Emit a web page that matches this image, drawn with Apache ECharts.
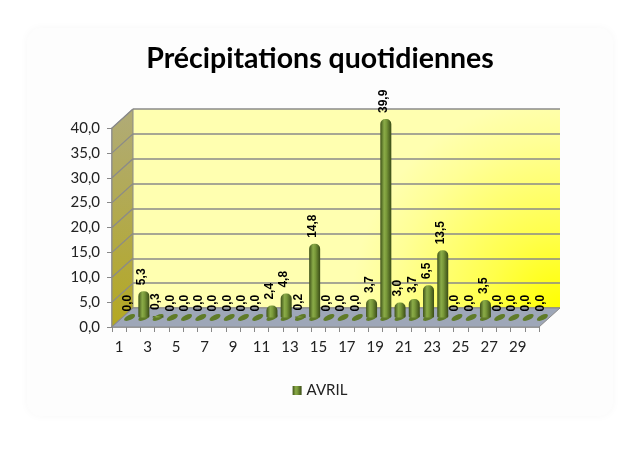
<!DOCTYPE html>
<html>
<head>
<meta charset="utf-8">
<script src="https://cdn.jsdelivr.net/npm/echarts@6/dist/echarts.min.js"></script>
<style>
  html, body { margin: 0; padding: 0; background: #fff; }
  #chart { width: 640px; height: 457px; }
</style>
</head>
<body>
<div id="chart"></div>
<script>
// jours d'avril
var days = ['1', '2', '3', '4', '5', '6', '7', '8', '9', '10',
            '11', '12', '13', '14', '15', '16', '17', '18', '19', '20',
            '21', '22', '23', '24', '25', '26', '27', '28', '29', '30'];
// précipitations (mm)
var rain = [0.0, 5.3, 0.3, 0.0, 0.0, 0.0, 0.0, 0.0, 0.0, 0.0,
            2.4, 4.8, 0.2, 14.8, 0.0, 0.0, 0.0, 3.7, 39.9, 3.0,
            3.7, 6.5, 13.5, 0.0, 0.0, 3.5, 0.0, 0.0, 0.0, 0.0];
var yTicks = [0, 5, 10, 15, 20, 25, 30, 35, 40];

// plot box (front face) and 3D depth
var PL = 112, PT = 128, PW = 427, PH = 199;
var DX = 21, DY = -19;

function fr(v) {
    return v.toFixed(1).replace('.', ',');
}

var myChart = echarts.init(document.getElementById('chart'));

var greenBar = new echarts.graphic.LinearGradient(0, 0, 1, 0, [
    {offset: 0, color: '#3f5219'},
    {offset: 0.35, color: '#8aab48'},
    {offset: 0.55, color: '#7a9a3a'},
    {offset: 1, color: '#3a4c16'}
]);

var pairs = days.map(function (d, i) { return [d, rain[i]]; });

var option = {
    backgroundColor: '#ffffff',
    title: {
        text: 'Précipitations quotidiennes',
        left: 'center',
        top: 39,
        textStyle: {
            fontFamily: 'Lato',
            fontWeight: 'bold',
            fontSize: 28.5,
            color: '#000'
        }
    },
    legend: {
        data: ['AVRIL'],
        top: 378,
        left: 'center',
        icon: 'rect',
        itemWidth: 9,
        itemHeight: 9,
        itemGap: 6,
        textStyle: {fontFamily: 'Lato', fontSize: 15, color: '#222'}
    },
    grid: [
        {left: PL, top: PT, width: PW, height: PH},
        {
            left: PL + DX, top: PT + DY, width: PW, height: PH,
            show: true, borderWidth: 0,
            backgroundColor: new echarts.graphic.RadialGradient(1, 1, 1.05, [
                {offset: 0, color: '#ffff00'},
                {offset: 0.35, color: '#ffff4a'},
                {offset: 0.8, color: '#ffff96'},
                {offset: 1, color: '#ffffb0'}
            ])
        },
        {left: PL + DX / 2, top: PT + DY / 2, width: PW, height: PH}
    ],
    xAxis: [
        {
            gridIndex: 0,
            type: 'category',
            data: days,
            axisLine: {lineStyle: {color: '#888', width: 1.5}},
            axisTick: {show: true, interval: 0, length: 5, lineStyle: {color: '#888'}},
            axisLabel: {interval: 1, margin: 13, fontFamily: 'Lato', fontSize: 15, color: '#222'}
        },
        {gridIndex: 1, type: 'category', data: days, show: false},
        {gridIndex: 2, type: 'category', data: days, show: false}
    ],
    yAxis: [
        {
            gridIndex: 0,
            type: 'value',
            min: 0, max: 40, interval: 5,
            axisLine: {show: true, lineStyle: {color: '#888', width: 1.5}},
            axisTick: {show: true, length: 5, lineStyle: {color: '#888'}},
            splitLine: {show: false},
            axisLabel: {
                margin: 12, fontFamily: 'Lato', fontSize: 15, color: '#222',
                formatter: function (v) { return fr(v); }
            }
        },
        {
            gridIndex: 1,
            type: 'value',
            min: 0, max: 40, interval: 5,
            axisLine: {show: false},
            axisTick: {show: false},
            axisLabel: {show: false},
            splitLine: {show: true, lineStyle: {color: '#8a8a8a', width: 1.5}}
        },
        {gridIndex: 2, type: 'value', min: 0, max: 40, interval: 5, show: false}
    ],
    series: [
        {
            // bases des colonnes (ellipses sur le sol)
            type: 'custom',
            xAxisIndex: 2,
            yAxisIndex: 2,
            z: 2,
            silent: true,
            data: pairs,
            renderItem: function (params, api) {
                var p = api.coord([api.value(0), 0]);
                return {
                    type: 'ellipse',
                    x: p[0], y: p[1],
                    rotation: Math.PI / 7,
                    shape: {cx: 0, cy: 0, rx: 6, ry: 2.6},
                    style: {fill: '#5f7b28'}
                };
            }
        },
        {
            name: 'AVRIL',
            type: 'bar',
            xAxisIndex: 2,
            yAxisIndex: 2,
            z: 3,
            barWidth: 11,
            data: rain,
            itemStyle: {
                color: greenBar,
                borderRadius: [5, 5, 1, 1]
            }
        },
        {
            // étiquettes verticales
            type: 'custom',
            xAxisIndex: 2,
            yAxisIndex: 2,
            z: 4,
            silent: true,
            data: pairs,
            renderItem: function (params, api) {
                var p = api.coord([api.value(0), api.value(1)]);
                return {
                    type: 'text',
                    x: p[0] - 2, y: p[1] - 6,
                    rotation: Math.PI / 2,
                    style: {
                        text: fr(api.value(1)),
                        fontFamily: 'Liberation Sans',
                        fontWeight: 'bold',
                        fontSize: 12,
                        fill: '#000',
                        align: 'left',
                        verticalAlign: 'middle'
                    }
                };
            }
        }
    ]
};
myChart.setOption(option);

// décor 3D : cadre, paroi gauche, sol
var gfx = [
    {
        type: 'rect', z: -10,
        shape: {x: 27, y: 28, width: 586, height: 388, r: 14},
        style: {fill: '#fdfdfd', shadowBlur: 8, shadowColor: 'rgba(0,0,0,0.035)'}
    },
    {
        type: 'polygon', z: 1,
        shape: {points: [[PL, PT + PH], [PL, PT], [PL + DX, PT + DY], [PL + DX, PT + PH + DY]]},
        style: {
            fill: new echarts.graphic.LinearGradient(0, 0, 0, 1, [
                {offset: 0, color: '#b0ab78'},
                {offset: 1, color: '#b4a822'}
            ]),
            stroke: '#8a8a8a', lineWidth: 1
        }
    }
];
yTicks.forEach(function (v) {
    var y = myChart.convertToPixel({yAxisIndex: 0}, v);
    gfx.push({
        type: 'line', z: 1,
        shape: {x1: PL, y1: y, x2: PL + DX, y2: y + DY},
        style: {stroke: '#8a8a8a', lineWidth: 1.3}
    });
});
gfx.push({
    type: 'polygon', z: 1,
    shape: {points: [[PL, PT + PH], [PL + PW, PT + PH], [PL + PW + DX, PT + PH + DY], [PL + DX, PT + PH + DY]]},
    style: {fill: '#9ea7b8', stroke: '#8a8a8a', lineWidth: 1}
});
myChart.setOption({graphic: gfx});
</script>
</body>
</html>
